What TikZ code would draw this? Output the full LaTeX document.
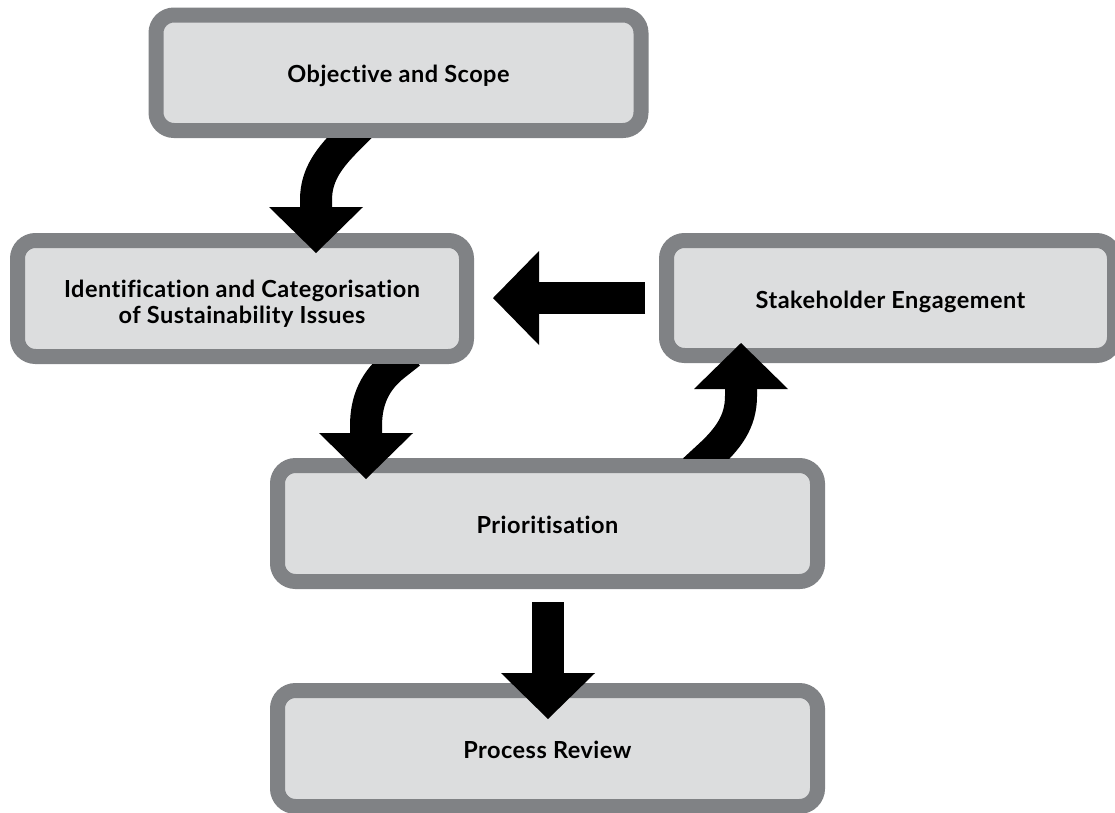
\documentclass[tikz,border=0pt]{standalone}
\usepackage{fontspec}
\setmainfont{Lato}[Ligatures=NoCommon, LetterSpace=2]
\usetikzlibrary{arrows.meta,calc}

\definecolor{rim}{RGB}{128,130,133}
\definecolor{panel}{RGB}{220,221,222}

\tikzset{
  stage/.style={draw=rim, fill=panel, line width=15pt, rounded corners=18pt,
                inner sep=0pt, outer sep=0pt},
  caption/.style={font=\fontsize{23.5}{27}\selectfont\bfseries, inner sep=0pt,
                  anchor=base, text=black},
  flow/.style={line width=32pt,
               -{Triangle[length=46pt,width=94pt,line width=0pt]}},
}

\begin{document}
\begin{tikzpicture}[x=1pt,y=-1pt]
\useasboundingbox (0,0) rectangle (1115,812);
\clip (0,0) rectangle (1115,812);

% process stages
\node[stage, minimum width=485pt, minimum height=115.5pt] (obj)    at (398.5,72.75) {};
\node[stage, minimum width=449pt, minimum height=116pt]   (ident)  at (242,298.5)   {};
\node[stage, minimum width=448pt, minimum height=115pt]   (stake)  at (890.5,298)   {};
\node[stage, minimum width=540pt, minimum height=116pt]   (prio)   at (547.5,523.5) {};
\node[stage, minimum width=540pt, minimum height=116pt]   (review) at (547.5,748.5) {};

% stage titles
\node[caption] (objtxt)    at ($(obj.center)+(0,10)$)      {Objective and Scope};
\node[caption] (identtxt1) at ($(ident.center)+(0,-1.5)$)  {Identification and Categorisation};
\node[caption] (identtxt2) at ($(ident.center)+(0,24.5)$)  {of Sustainability Issues};
\node[caption] (staketxt)  at ($(stake.center)+(0,10)$)    {Stakeholder Engagement};
\node[caption] (priotxt)   at ($(prio.center)+(0,10)$)     {Prioritisation};
\node[caption] (reviewtxt) at ($(review.center)+(0,10)$)   {Process Review};

% Objective and Scope -> Identification
\coordinate (a1s) at ($(obj.south)+(-49.5,7.5)$);
\coordinate (a1e) at ($(ident.north)+(74,12.5)$);
\begin{scope}
  \clip (0,138) rectangle (1115,812);
  \draw[flow] ($(a1s)+(14,-14)$) -- (a1s)
    .. controls +(-19,19) and +(0,-26) .. ($(a1e)+(0,-53)$) -- (a1e);
\end{scope}

% Identification -> Prioritisation
\coordinate (a2s) at ($(ident.south)+(154,7.5)$);
\coordinate (a2e) at ($(prio.north)+(-181.5,13.5)$);
\begin{scope}
  \clip (0,364) rectangle (1115,812);
  \draw[flow] ($(a2s)+(14,-11)$) -- (a2s)
    .. controls +(-21,16) and +(0,-26) .. ($(a2e)+(0,-53)$) -- (a2e);
\end{scope}

% Prioritisation -> Stakeholder Engagement
\coordinate (a3s) at ($(prio.north)+(159.5,-7.5)$);
\coordinate (a3e) at ($(stake.south)+(-149.5,-12.5)$);
\begin{scope}
  \clip (0,0) rectangle (1115,458);
  \draw[flow] ($(a3s)+(-13,12)$) -- (a3s)
    .. controls +(21,-19) and +(0,26) .. ($(a3e)+(0,53)$) -- (a3e);
\end{scope}

% Stakeholder Engagement -> Identification
\coordinate (a4s) at ($(stake.west)+(-21.5,0)$);
\coordinate (a4e) at ($(a4s -| ident.east)+(26.5,0)$);
\draw[flow] (a4s) -- (a4e);

% Prioritisation -> Process Review
\coordinate (a5s) at ($(prio.south)+(0.5,20.5)$);
\coordinate (a5e) at ($(review.north)+(0.5,28.5)$);
\draw[flow] (a5s) -- (a5e);
\end{tikzpicture}
\end{document}
